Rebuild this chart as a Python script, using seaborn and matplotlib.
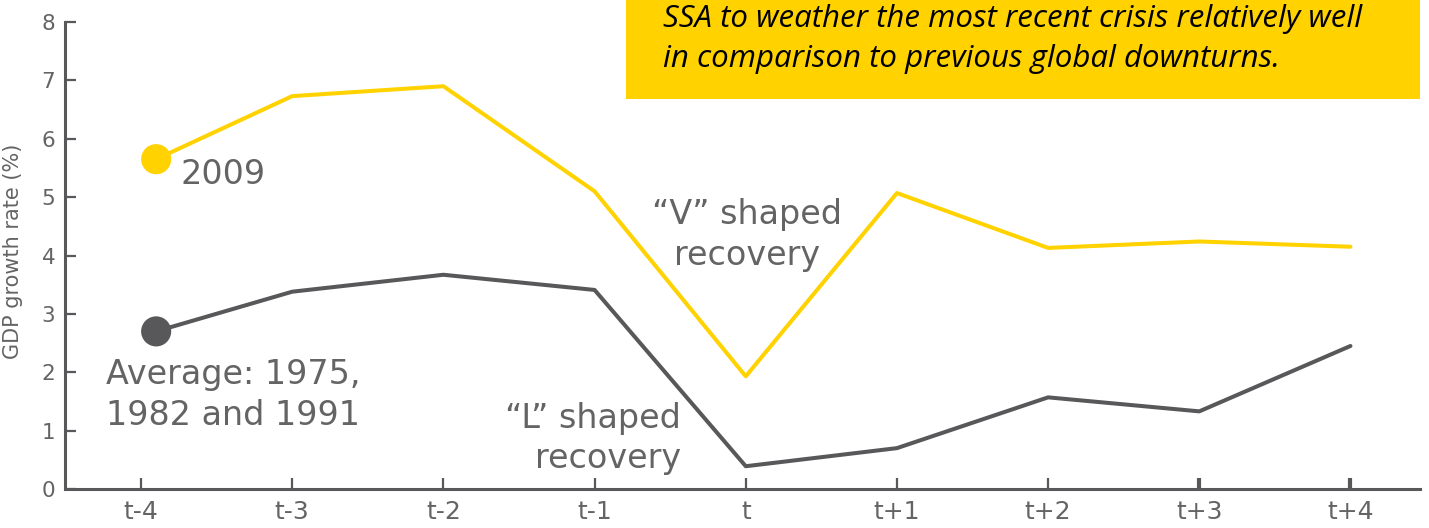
"""
plot.py — SSA GDP growth around global downturns
"""

import pandas as pd
import matplotlib.pyplot as plt
from matplotlib.patches import Rectangle
import seaborn as sns

# data
periods = ["t-4", "t-3", "t-2", "t-1", "t", "t+1", "t+2", "t+3", "t+4"]
x_pos = [0.1, 1, 2, 3, 4, 5, 6, 7, 8]
gdp_2009 = [5.65, 6.73, 6.90, 5.10, 1.93, 5.07, 4.13, 4.24, 4.15]
gdp_avg = [2.70, 3.38, 3.67, 3.41, 0.39, 0.70, 1.57, 1.33, 2.45]

YELLOW = "#FFD200"
GREY = "#58585A"
TEXT = "#646464"

sns.set_theme(style="white")
plt.rcParams["font.family"] = ["DejaVu Sans"]

df = pd.DataFrame({"x": x_pos, "y2009": gdp_2009, "yavg": gdp_avg})

fig = plt.figure(figsize=(14.29, 5.28), dpi=100)
ax = fig.add_axes([65 / 1429, 39 / 528, 1355 / 1429, 467 / 528])

sns.lineplot(data=df, x="x", y="y2009", color=YELLOW, linewidth=2.9, ax=ax)
sns.lineplot(data=df, x="x", y="yavg", color=GREY, linewidth=2.9, ax=ax)
sns.scatterplot(x=df["x"].iloc[:1], y=df["y2009"].iloc[:1], color=YELLOW,
                s=470, edgecolor="none", ax=ax, zorder=5)
sns.scatterplot(x=df["x"].iloc[:1], y=df["yavg"].iloc[:1], color=GREY,
                s=470, edgecolor="none", ax=ax, zorder=5)

ax.set_xlim(-0.503, 8.46)
ax.set_ylim(0, 8)
ax.set_xticks(range(len(periods)))
ax.set_xticklabels(periods)
ax.set_yticks(range(0, 9))
ax.set_xlabel("")
ax.set_ylabel("GDP growth rate (%)", fontsize=15, color=TEXT)
ax.yaxis.set_label_coords(-0.031, 0.51)

for side in ["top", "right"]:
    ax.spines[side].set_visible(False)
for side in ["left", "bottom"]:
    ax.spines[side].set_color(GREY)
    ax.spines[side].set_linewidth(2.2)

ax.tick_params(axis="both", direction="in", length=8, width=1.6,
               color=GREY, labelcolor=TEXT)
ax.tick_params(axis="x", labelsize=18, pad=8)
ax.tick_params(axis="y", labelsize=15.5, pad=7)
ax.tick_params(left=True, bottom=True)
for tick in ax.xaxis.get_major_ticks()[7:]:
    tick.tick1line.set_color("black")
    tick.tick1line.set_markeredgewidth(3)

# annotations
ax.text(0.26, 5.39, "2009", fontsize=24, color=TEXT, va="center", ha="left")
ax.text(-0.23, 1.61, "Average: 1975,\n1982 and 1991", fontsize=24,
        color=TEXT, va="center", ha="left", linespacing=1.28)
ax.text(4.01, 4.35, "\u201cV\u201d shaped\nrecovery", fontsize=24,
        color=TEXT, va="center", ha="center", linespacing=1.28)
ax.text(3.57, 0.86, "\u201cL\u201d shaped\nrecovery", fontsize=24,
        color=TEXT, va="center", ha="right", linespacing=1.28)

# yellow callout box, top right
fig.patches.append(Rectangle((626 / 1429, 1 - 99 / 528), 794 / 1429, 99 / 528,
                             transform=fig.transFigure, facecolor=YELLOW,
                             edgecolor="none", zorder=0))
box_font = ["Open Sans", "DejaVu Sans"]
fig.text(663 / 1429, 1 - 27 / 528,
         "SSA to weather the most recent crisis relatively well",
         fontsize=22.5, style="italic", family=box_font, color="black",
         va="baseline", ha="left")
fig.text(663 / 1429, 1 - 67 / 528,
         "in comparison to previous global downturns.",
         fontsize=22.5, style="italic", family=box_font, color="black",
         va="baseline", ha="left")

plt.savefig("out.png", dpi=100)
plt.close()
